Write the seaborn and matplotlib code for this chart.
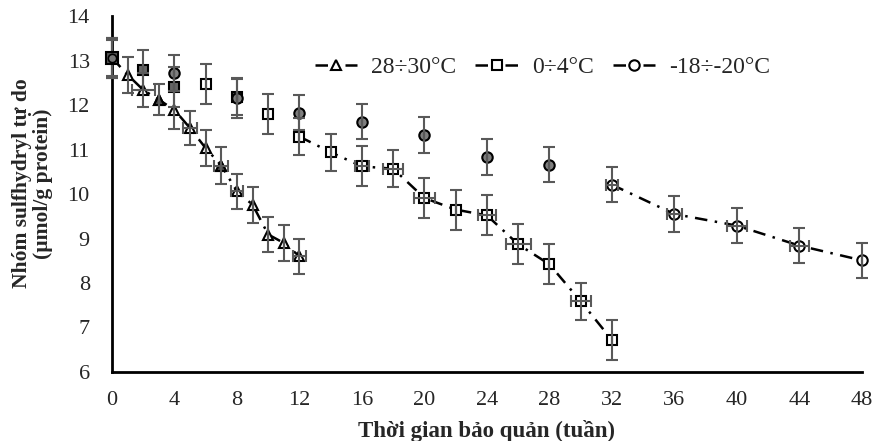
import numpy as np
import pandas as pd
import matplotlib
matplotlib.use("Agg")
import matplotlib.pyplot as plt
import seaborn as sns

# du lieu doc tu hinh
weeks_hot = [0, 1, 2, 3, 4, 5, 6, 7, 8, 9, 10, 11, 12]
sh_hot = [13.06, 12.68, 12.34, 12.12, 11.89, 11.48, 11.03, 10.64, 10.06, 9.76, 9.09, 8.90, 8.60]
err_hot = [0.45, 0.40, 0.38, 0.35, 0.42, 0.38, 0.40, 0.42, 0.40, 0.40, 0.40, 0.40, 0.40]
xerr_hot = [0, 0, 0.75, 0, 0, 0.45, 0, 0.45, 0.4, 0, 0, 0, 0.4]

weeks_cold = [0, 2, 4, 6, 8, 10, 12, 14, 16, 18, 20, 22, 24, 26, 28, 30, 32]
sh_cold = [13.06, 12.79, 12.40, 12.48, 12.18, 11.80, 11.29, 10.94, 10.62, 10.57, 9.91, 9.65, 9.52, 8.87, 8.42, 7.59, 6.72]
err_cold = [0.45, 0.45, 0.45, 0.45, 0.40, 0.45, 0.42, 0.42, 0.45, 0.42, 0.45, 0.45, 0.45, 0.45, 0.45, 0.42, 0.45]
xerr_cold = [0, 0, 0, 0, 0, 0, 0, 0, 0.45, 0.65, 0.7, 0, 0.55, 0.8, 0, 0.65, 0]

weeks_frozen = [0, 4, 8, 12, 16, 20, 24, 28, 32, 36, 40, 44, 48]
sh_frozen = [13.06, 12.72, 12.15, 11.83, 11.63, 11.33, 10.83, 10.66, 10.21, 9.55, 9.29, 8.84, 8.51]
err_frozen = [0.40, 0.40, 0.45, 0.40, 0.40, 0.40, 0.40, 0.40, 0.40, 0.40, 0.40, 0.40, 0.40]
xerr_frozen = [0, 0, 0, 0, 0, 0, 0, 0, 0.4, 0.5, 0.65, 0.6, 0]

labels = ['28÷30°C', '0÷4°C', '-18÷-20°C']
x_ticks = list(range(0, 49, 4))
y_ticks = list(range(6, 15))

# tuan dau tien duoc noi bang duong; cac diem truoc do khong noi
line_start_week = [0, 12, 32]
# cac diem to xam (theo tuan)
gray_weeks = [[3, 7], [2, 4, 8], [4, 8, 12, 16, 20, 24, 28]]

sns.set_style("white")
plt.rcParams['font.family'] = ['Liberation Serif', 'DejaVu Serif']

fig = plt.figure(figsize=(8.75, 4.41), dpi=100)
ax = fig.add_axes([0.128, 0.1565, 0.857, 0.807])

dash = (0, (5, 3, 1, 3))
series = [
    (weeks_hot, sh_hot, err_hot, xerr_hot, '^', '#444444', 7),
    (weeks_cold, sh_cold, err_cold, xerr_cold, 's', '#666666', 7.5),
    (weeks_frozen, sh_frozen, err_frozen, xerr_frozen, 'o', '#7f7f7f', 7.5),
]

for i, (wk, val, err, xerr, mk, gray, ms) in enumerate(series):
    df = pd.DataFrame({'week': wk, 'sh': val})
    ax.errorbar(wk, val, yerr=err, xerr=xerr, fmt='none', ecolor='#595959',
                elinewidth=1.5, capsize=4, capthick=1.5, zorder=4, clip_on=False)
    on_line = df[df['week'] >= line_start_week[i]]
    sns.lineplot(data=on_line, x='week', y='sh', ax=ax, color='black',
                 linewidth=1.8, linestyle=dash, marker=mk, markersize=ms,
                 markerfacecolor='white', markeredgecolor='black',
                 markeredgewidth=1.5, label=labels[i], zorder=3, clip_on=False)
    off_line = df[(df['week'] < line_start_week[i]) & (df['week'] > 0)]
    fills = [gray if w in gray_weeks[i] else 'white' for w in off_line['week']]
    for w, v, fc in zip(off_line['week'], off_line['sh'], fills):
        ax.plot([w], [v], linestyle='none', marker=mk, markersize=ms,
                markerfacecolor=fc, markeredgecolor='black',
                markeredgewidth=1.5, zorder=3)
    for w, v in zip(on_line['week'], on_line['sh']):
        if w in gray_weeks[i]:
            ax.plot([w], [v], linestyle='none', marker=mk, markersize=ms,
                    markerfacecolor=gray, markeredgecolor='black',
                    markeredgewidth=1.5, zorder=3.5)

# diem 0 chung cua ca ba mau
ax.plot([weeks_cold[0]], [sh_cold[0]], linestyle='none', marker='s', markersize=9,
        markerfacecolor='#555555', markeredgecolor='black', markeredgewidth=1.5,
        zorder=5, clip_on=False)
ax.plot([weeks_frozen[0]], [sh_frozen[0]], linestyle='none', marker='o', markersize=6,
        markerfacecolor='#777777', markeredgecolor='black', markeredgewidth=1.2,
        zorder=6, clip_on=False)

ax.set_xlim(0, 48)
ax.set_ylim(6, 14)
ax.set_xticks(x_ticks)
ax.set_yticks(y_ticks)
ax.tick_params(axis='both', length=0, labelsize=16)
ax.tick_params(axis='x', pad=14)
ax.tick_params(axis='y', pad=16)
for side in ['top', 'right']:
    ax.spines[side].set_visible(False)
for side in ['left', 'bottom']:
    ax.spines[side].set_color('black')
    ax.spines[side].set_linewidth(2)

ax.set_xlabel('Thời gian bảo quản (tuần)', fontsize=16.5, fontweight='bold')
ax.set_ylabel('Nhóm sulfhydryl tự do\n(µmol/g protein)', fontsize=15.5,
              fontweight='bold', linespacing=1.05)
ax.xaxis.set_label_coords(0.5, -0.135)
ax.yaxis.set_label_coords(-0.079, 0.53)

ax.legend(loc='center', bbox_to_anchor=(0.62, 0.848), bbox_transform=fig.transFigure,
          ncol=3, frameon=False, fontsize=17, handlelength=1.8,
          handletextpad=0.6, columnspacing=0.8)

plt.savefig('out.png', dpi=100)
